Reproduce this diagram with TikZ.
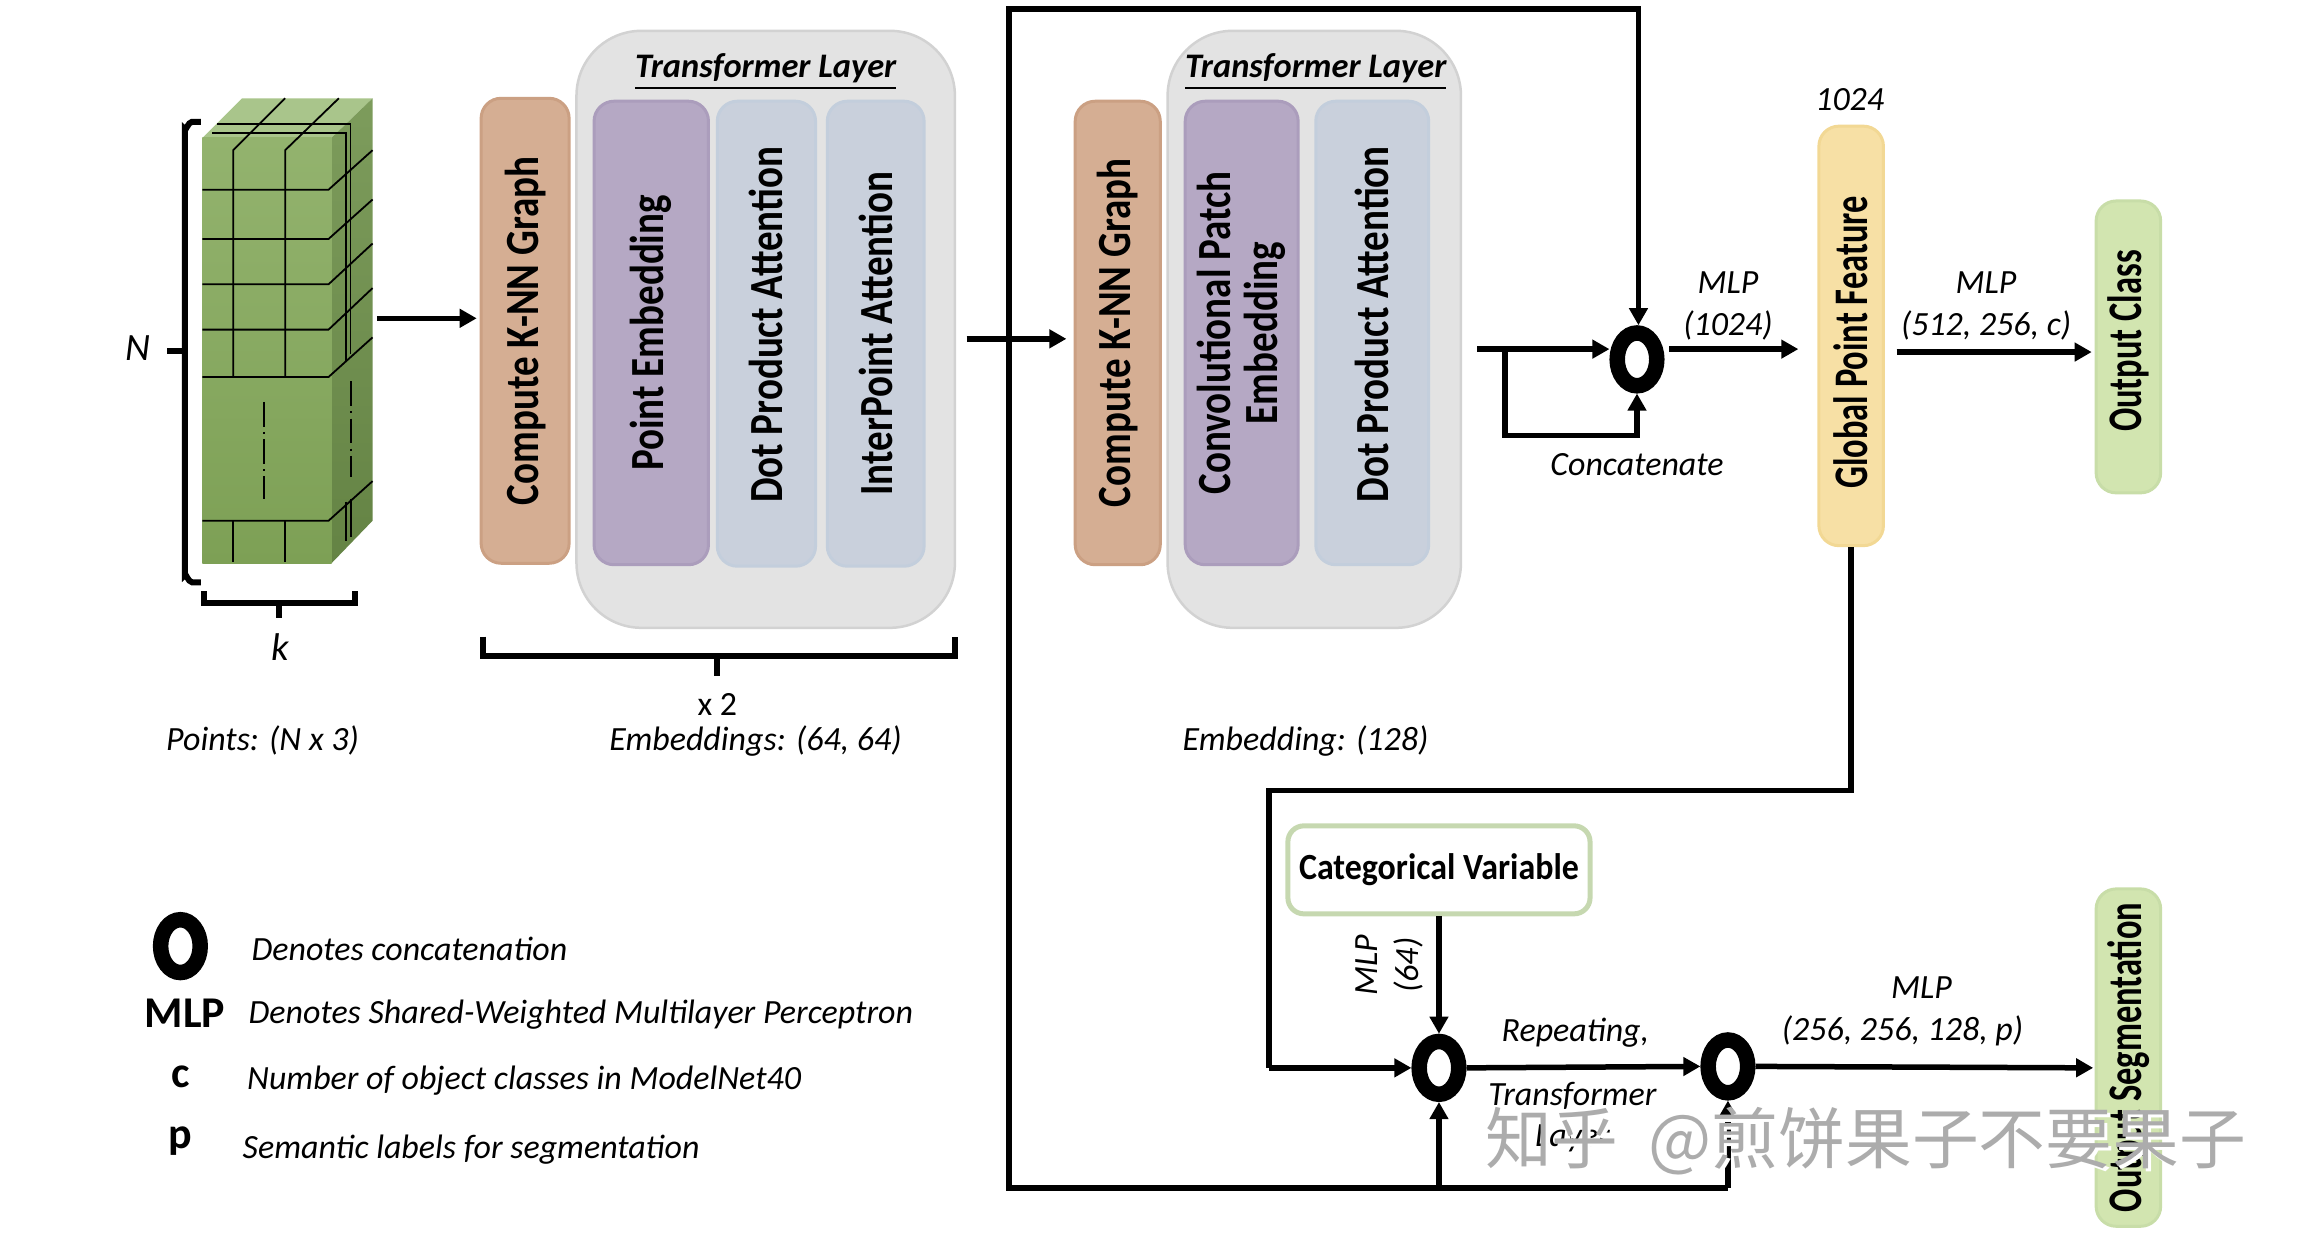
\documentclass[tikz,border=0pt]{standalone}
\usepackage{fontspec}
\setmainfont{Carlito}
\newfontfamily\cjk{Noto Sans CJK SC}
\usetikzlibrary{arrows.meta}
\usetikzlibrary{shapes.geometric}

\newcommand{\du}{0.14668mm}
\newcommand{\vtext}[1]{\scalebox{1}[1.22]{#1}}
\newcommand{\wtext}[1]{\scalebox{1}[1.4]{#1}}

\definecolor{cubefronttop}{HTML}{93B36E}
\definecolor{cubefrontbot}{HTML}{7DA055}
\definecolor{cubesidetop}{HTML}{7D9C5C}
\definecolor{cubesidebot}{HTML}{648344}
\definecolor{cubetop}{HTML}{A9C58B}
\definecolor{knnfill}{HTML}{D5AE93}
\definecolor{knnline}{HTML}{CBA083}
\definecolor{purplefill}{HTML}{B5A8C4}
\definecolor{purpleline}{HTML}{AB9DBC}
\definecolor{bluefill}{HTML}{C9D0DC}
\definecolor{blueline}{HTML}{C3CEDC}
\definecolor{greenfill}{HTML}{D2E5B0}
\definecolor{greenline}{HTML}{C8DDA8}
\definecolor{yellowfill}{HTML}{F7E0A5}
\definecolor{yellowline}{HTML}{F2D894}
\definecolor{catline}{HTML}{C6D8B0}

\tikzset{
  blockv/.style={rotate=90, rounded corners=2mm, line width=0.3mm, inner sep=0,
    font=\bfseries\fontsize{11.1}{12.5}\selectfont, align=center},
  knnblock/.style={blockv, fill=knnfill, draw=knnline},
  purpleblock/.style={blockv, fill=purplefill, draw=purpleline},
  blueblock/.style={blockv, fill=bluefill, draw=blueline},
  greenblock/.style={blockv, fill=greenfill, draw=greenline, font=\bfseries\fontsize{9.8}{11}\selectfont},
  yellowblock/.style={blockv, fill=yellowfill, draw=yellowline, font=\bfseries\fontsize{9.8}{11}\selectfont},
  transformerbox/.style={rounded corners=6.5mm, fill=gray!22, draw=gray!35, line width=0.25mm},
  concat/.style={ellipse, draw=black, line width=1.55mm, inner sep=0,
    minimum width=27*\du, minimum height=36*\du},
  caption/.style={font=\itshape\fontsize{9.65}{11}\selectfont, inner sep=0},
  title/.style={font=\bfseries\itshape\fontsize{9.8}{11}\selectfont, inner sep=0},
  conn/.style={line width=0.55mm, -{Triangle[length=1.7mm,width=1.8mm]}},
  wire/.style={line width=0.55mm},
  bracket/.style={line width=0.6mm},
  grid line/.style={black, line width=0.18mm}
}

\begin{document}
\begin{tikzpicture}[x=\du,y=-\du]

\useasboundingbox (0,0) rectangle (1568,840);

%cube
{
\fill[cubetop] (138,94)--(165,67)--(254,67)--(226,94)--cycle;
\path[top color=cubesidetop, bottom color=cubesidebot] (226,94)--(254,67)--(254,355)--(226,384)--cycle;
\path[top color=cubefronttop, bottom color=cubefrontbot] (138,94) rectangle (226,384);

\foreach \yline/\yend in {129.3/102.4, 162.9/136, 193.8/166, 224.7/196.4, 257/230, 355/328}
{
\draw[grid line] (138,\yline)--(224,\yline)--(254,\yend);
}

\draw[grid line] (231,67)--(194.4,102.4)--(194.4,257);
\draw[grid line] (194.4,67)--(159,102.4)--(159,257);
\draw[grid line] (147.8,84.4)--(239,84.4)--(239,241);
\draw[grid line] (144.8,90.8)--(235.7,90.8)--(235.7,246);

\draw[grid line] (159,355)--(159,383);
\draw[grid line] (194.4,355)--(194.4,383);
\draw[grid line] (235.7,342)--(235.7,369);
\draw[grid line] (239.5,340)--(239.5,366);

\draw[grid line, dash pattern=on 7pt off 1.5pt on 0.6pt off 1.5pt] (179.8,274)--(179.8,340);
\draw[grid line, dash pattern=on 7pt off 1.5pt on 0.6pt off 1.5pt] (239.5,260)--(239.5,325);
}

% brackets
{
\draw[bracket] (137,83)--(131,83) to[out=180,in=-90] (126,88)--(126,392) to[out=90,in=180] (131,397)--(137,397);
\draw[bracket] (114,239)--(126,239);
\draw[bracket] (139,403)--(139,411)--(242,411)--(242,403);
\draw[bracket] (190,411)--(190,421);
\draw[bracket] (329,434)--(329,447)--(651,447)--(651,434);
\draw[bracket] (489,447)--(489,461);
}

% transformer panels
\draw[transformerbox] (393,21) rectangle (651,428);
\draw[transformerbox] (796,21) rectangle (996,428);

% blocks
{
\node[knnblock, minimum width=317*\du, minimum height=60*\du] (knnone) at (358,225.5) {\vtext{Compute K-NN Graph}};
\node[purpleblock, minimum width=316*\du, minimum height=78*\du] (pointemb) at (444,227) {\vtext{Point Embedding}};
\node[blueblock, minimum width=317*\du, minimum height=67*\du] (dotone) at (522.5,227.5) {\hspace*{5pt}\vtext{Dot Product Attention}};
\node[blueblock, minimum width=317*\du, minimum height=66*\du] (interpoint) at (597,227.5) {\vtext{InterPoint Attention}};

\node[knnblock, minimum width=316*\du, minimum height=58*\du] (knntwo) at (762,227) {\vtext{Compute K-NN Graph}};
\node[purpleblock, minimum width=316*\du, minimum height=77*\du] (convemb) at (846.5,227) {\vtext{Convolutional Patch}\\[0.3mm]\vtext{Embedding}};
\node[blueblock, minimum width=316*\du, minimum height=77*\du] (dottwo) at (935.5,227) {\hspace*{5pt}\vtext{Dot Product Attention}};

\node[yellowblock, minimum width=286*\du, minimum height=44*\du] (global) at (1262,229) {\wtext{Global Point Feature}\hspace*{3.7pt}};
\node[greenblock, minimum width=199*\du, minimum height=44*\du] (outclass) at (1451,236.5) {\hspace*{3.3pt}\wtext{Output Class}};
\node[greenblock, minimum width=230*\du, minimum height=44*\du] (outseg) at (1451,721) {\wtext{Output Segmentation}};

\node[draw=catline, line width=0.5mm, rounded corners=1.6mm, fill=white, inner sep=0,
  minimum width=206*\du, minimum height=60*\du, font=\bfseries\fontsize{10.5}{12}\selectfont] (catvar) at (981,593) {\scalebox{0.92}[1]{Categorical Variable}};
}

% concatenations
{
\node[concat] (ringa) at (1116,245) {};
\node[concat] (ringb) at (981,728) {};
\node[concat] (ringc) at (1178,727) {};
\node[concat] (ringkey) at (123,645) {};
}

% free ends
{
\coordinate (cubeout) at (257,217);
\coordinate (knnin) at (325,217);
\coordinate (layerout) at (659,231);
\coordinate (split) at (688,231);
\coordinate (layerin) at (727,231);
\coordinate (toptl) at (688,6);
\coordinate (toptr) at (1117,6);
\coordinate (botl) at (688,810);
\coordinate (botm) at (981,810);
\coordinate (botr) at (1178,810);
\coordinate (ringin) at (1007,238);
\coordinate (loopa) at (1026,238);
\coordinate (loopb) at (1026,297);
\coordinate (loopc) at (1116,297);
\coordinate (mlpout) at (1138,238);
\coordinate (mlpin) at (1226,238);
\coordinate (classout) at (1293,240);
\coordinate (classin) at (1426,240);
\coordinate (globdown) at (1262,539);
\coordinate (globleft) at (865,539);
\coordinate (globin) at (865,728);
\coordinate (segin) at (1427,728);
}

% connectors
{
\draw[conn] (cubeout)--(knnin);
\draw[conn] (layerout)--(layerin);
\draw[conn] (split)--(toptl)--(toptr)--(toptr |- ringa.north);
\draw[wire] (split)--(botl)--(botr);
\draw[conn] (botm)--(ringb.south);
\draw[conn] (botr)--(ringc.south);
\draw[conn] (ringin)--(ringin -| ringa.west);
\draw[conn] (loopa)--(loopb)--(loopc)--(ringa.south);
\draw[conn] (mlpout)--(mlpin);
\draw[conn] (classout)--(classin);
\draw[wire] (global.west)--(globdown)--(globleft)--(globin);
\draw[conn] (globin)--(ringb.west);
\draw[conn] (catvar.south)--(ringb.north);
\draw[conn] (ringb.east)--(ringc.west);
\draw[conn] (ringc.east)--(segin);
}

% nodes
{
\node[title] (titleone) at (522,49) {\underline{Transformer Layer}};
\node[title] (titletwo) at (897,49) {\underline{Transformer Layer}};

\node[caption] (labn) at (94,237) {\fontsize{11}{12}\selectfont N};
\node[caption] (labk) at (191,441) {\fontsize{11}{12}\selectfont k};
\node[inner sep=0, font=\fontsize{9.65}{11}\selectfont] (labtimes) at (489,480) {x 2};
\node[caption] (labpoints) at (179,505) {Points: (N x 3)};
\node[caption] (labembs) at (515,505) {Embeddings: (64, 64)};
\node[caption] (labemb) at (890,505) {Embedding: (128)};

\node[caption] (labdim) at (1261,68) {1024};
\node[caption] (labmlpa) at (1178,193) {MLP};
\node[caption] (labmlpb) at (1178,222) {(1024)};
\node[caption] (labconcat) at (1116,317) {Concatenate};
\node[caption] (labmlpc) at (1354,193) {MLP};
\node[caption] (labmlpd) at (1354,222) {(512, 256, c)};

\node[caption, rotate=90] (labmlpe) at (932,658) {MLP};
\node[caption, rotate=90] (labmlpf) at (960,658) {(64)};
\node[caption] (labrep) at (1074,704) {Repeating,};
\node[caption] (labtrans) at (1072,747) {Transformer};
\node[caption] (lablayer) at (1072,776) {Layer};
\node[caption] (labmlpg) at (1310,673) {MLP};
\node[caption] (labmlph) at (1297,703) {(256, 256, 128, p)};

\node[caption, anchor=west] (keya) at (171,647) {Denotes concatenation};
\node[caption, anchor=west] (keyb) at (169,692) {Denotes Shared-Weighted Multilayer Perceptron};
\node[caption, anchor=west] (keyc) at (168,737) {Number of object classes in ModelNet40};
\node[caption, anchor=west] (keyd) at (165,784) {Semantic labels for segmentation};
\node[inner sep=0, font=\bfseries\fontsize{12.5}{14}\selectfont] (keymlp) at (126,691) {MLP};
\node[inner sep=0, font=\bfseries\fontsize{12.5}{14}\selectfont] (keyletc) at (123,734) {c};
\node[inner sep=0, font=\bfseries\fontsize{12.5}{14}\selectfont] (keyletp) at (123,778) {p};

\node[inner sep=0, anchor=west, text=white, font=\cjk\fontsize{19}{20}\selectfont] (markback) at (1014,780) {知乎\ \ @煎饼果子不要果子};
\node[inner sep=0, anchor=west, text=gray!65, font=\cjk\fontsize{19}{20}\selectfont] (mark) at (1012,778) {知乎\ \ @煎饼果子不要果子};
}

\end{tikzpicture}
\end{document}
